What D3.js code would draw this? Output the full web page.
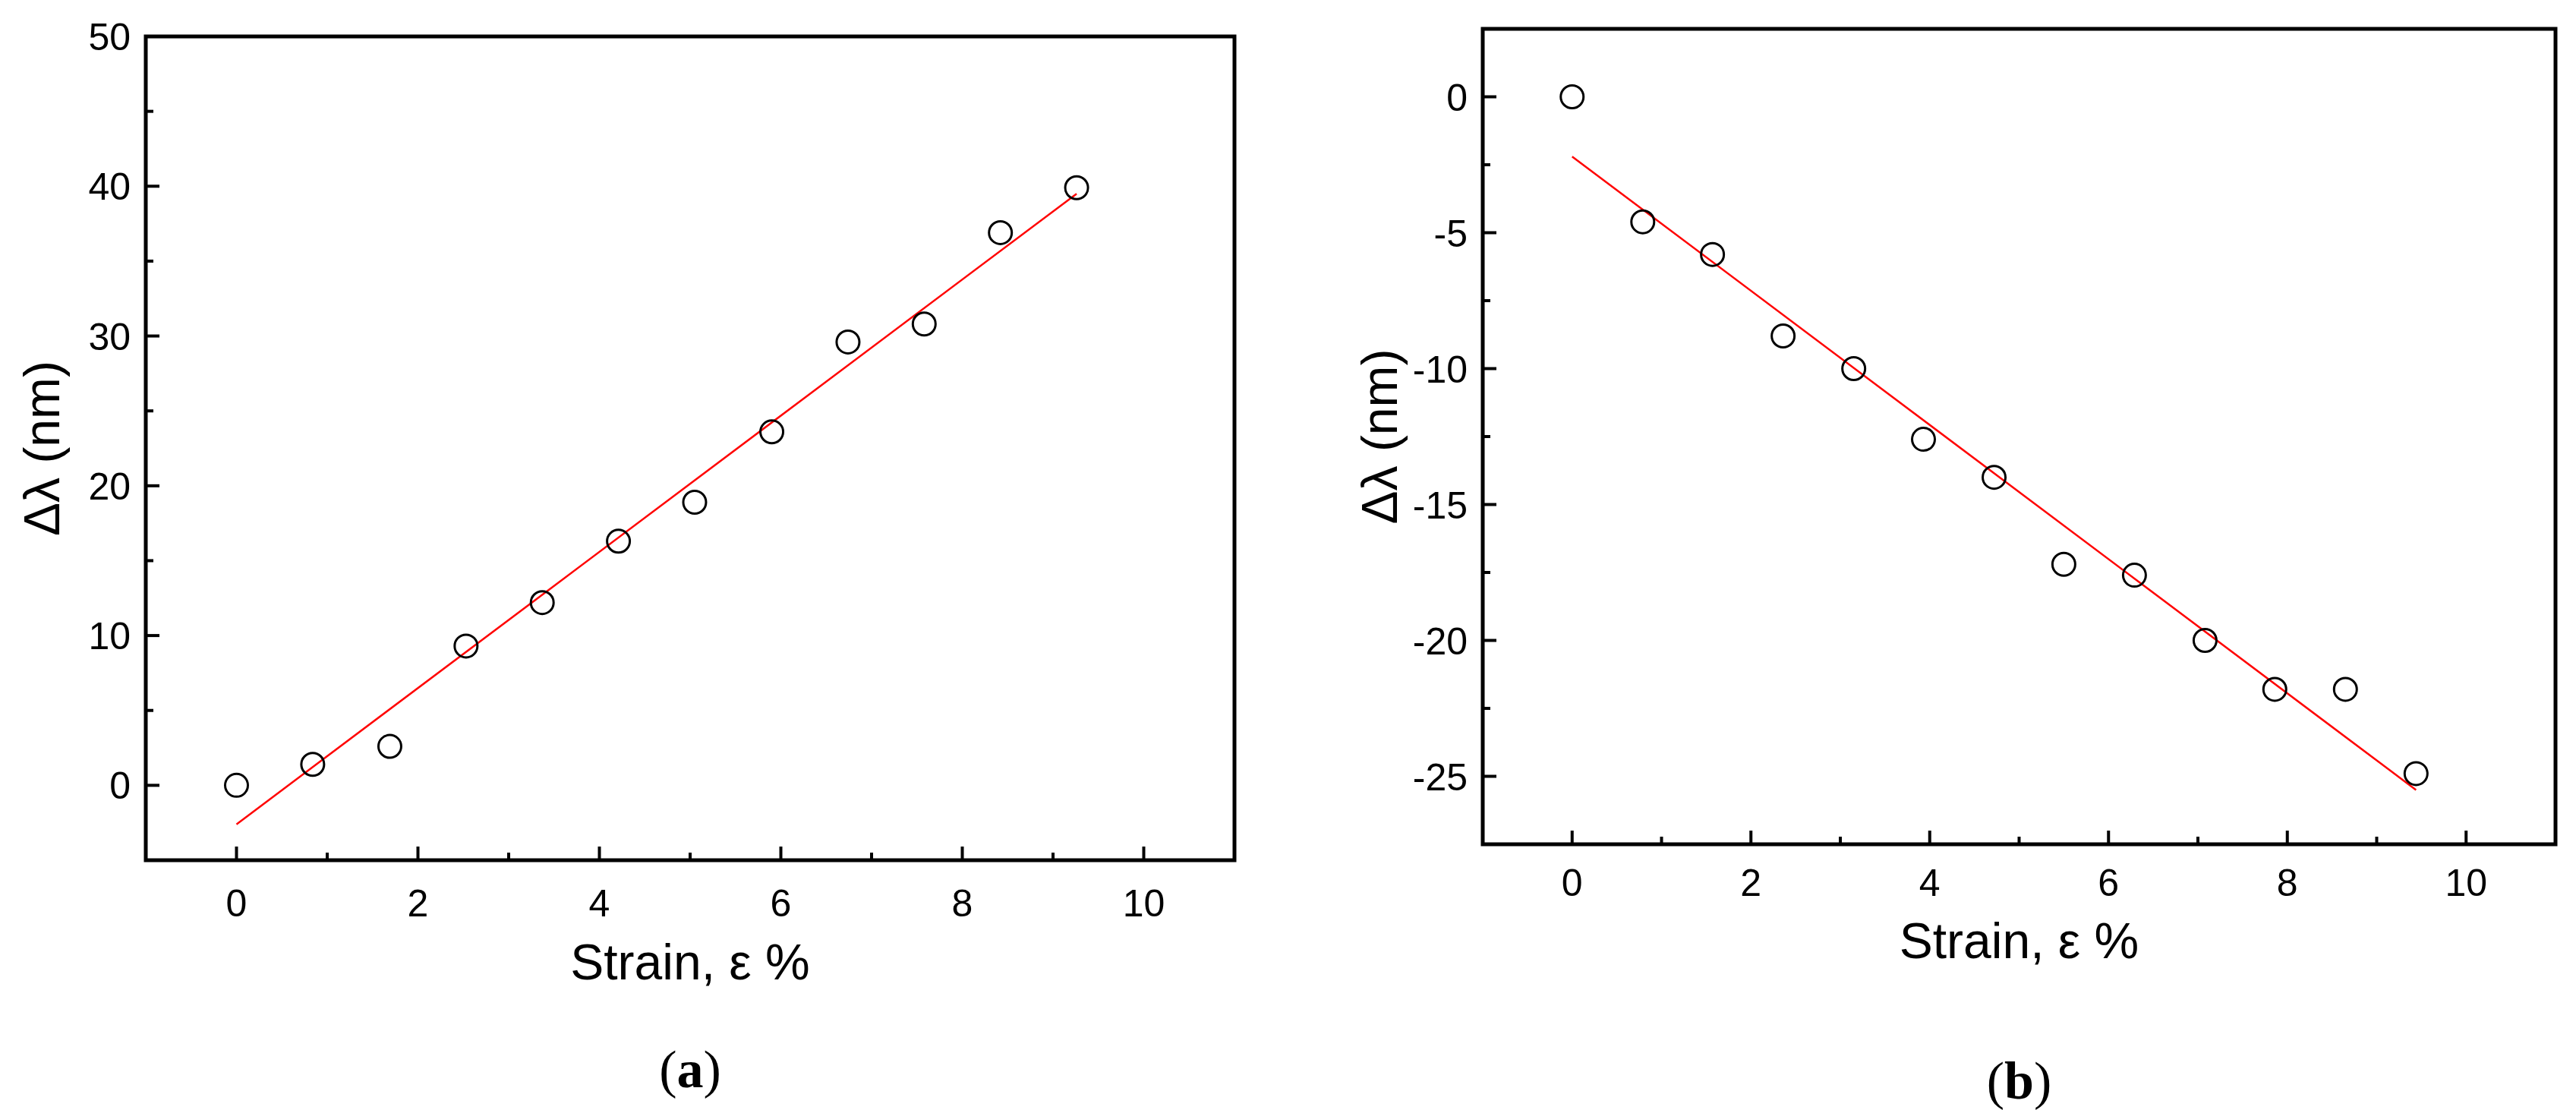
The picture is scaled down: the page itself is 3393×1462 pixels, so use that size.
<!DOCTYPE html><html><head><meta charset="utf-8"><script src="https://cdn.jsdelivr.net/npm/d3@7"></script>
<style>body{margin:0;background:#fff}</style></head><body><svg id="c" width="3393" height="1462"></svg>
<script>
const xA=[0,0.84,1.69,2.53,3.37,4.21,5.05,5.9,6.74,7.58,8.42,9.26];
const yA=[0,1.4,2.6,9.3,12.2,16.3,18.9,23.6,29.6,30.8,36.9,39.9];
const fitA=[[0,-2.6],[9.26,39.5]];
const xB=[0,0.79,1.57,2.36,3.15,3.93,4.72,5.5,6.29,7.08,7.86,8.65,9.44];
const yB=[0,-4.6,-5.8,-8.8,-10,-12.6,-14,-17.2,-17.6,-20,-21.8,-21.8,-24.9];
const fitB=[[0,-2.2],[9.44,-25.5]];
const xTicks=[0,2,4,6,8,10];
const yTicksA=[0,10,20,30,40,50];
const yTicksB=[0,-5,-10,-15,-20,-25];
const svg=d3.select("#c");
const F="Liberation Sans, Arial, sans-serif";
function panel(o){
  const x=d3.scaleLinear().domain([-1,11]).range([o.l,o.r]);
  const y=d3.scaleLinear().domain(o.yd).range([o.b,o.t]);
  const g=svg.append("g");
  // ticks
  const xm=d3.range(0,11,1), ym=d3.range(o.yd[0],o.yd[1]+0.001,o.ystep/2);
  xm.forEach(v=>{const L=(v%2===0)?18:10;g.append("line").attr("x1",x(v)).attr("x2",x(v)).attr("y1",o.b).attr("y2",o.b-L).attr("stroke","#000").attr("stroke-width",4);});
  ym.forEach(v=>{if(v<=o.yd[0]+0.01)return;const major=o.yt.some(t=>Math.abs(t-v)<1e-6);const L=major?18:10;g.append("line").attr("x1",o.l).attr("x2",o.l+L).attr("y1",y(v)).attr("y2",y(v)).attr("stroke","#000").attr("stroke-width",4);});
  g.append("rect").attr("x",o.l).attr("y",o.t).attr("width",o.r-o.l).attr("height",o.b-o.t).attr("fill","none").attr("stroke","#000").attr("stroke-width",5);
  xTicks.forEach(v=>g.append("text").attr("x",x(v)).attr("y",o.xly).attr("text-anchor","middle").attr("font-family",F).attr("font-size",50).text(v));
  o.yt.forEach(v=>g.append("text").attr("x",o.l-20).attr("y",y(v)+18).attr("text-anchor","end").attr("font-family",F).attr("font-size",50).text(v));
  g.append("text").attr("x",(o.l+o.r)/2).attr("y",o.xty).attr("text-anchor","middle").attr("font-family",F).attr("font-size",66).text("Strain, ε %");
  g.append("text").attr("transform",`translate(${o.ytx},${(o.t+o.b)/2}) rotate(-90)`).attr("text-anchor","middle").attr("font-family",F).attr("font-size",66).text("Δλ (nm)");
  g.append("text").attr("x",(o.l+o.r)/2).attr("y",o.py).attr("text-anchor","middle").attr("font-family","Liberation Serif, Times New Roman, serif").attr("font-size",70).html(`(<tspan font-weight="bold">${o.lab}</tspan>)`);
  g.append("path").attr("d",d3.line().x(d=>x(d[0])).y(d=>y(d[1]))(o.fit)).attr("stroke","#ff0000").attr("stroke-width",2.5).attr("fill","none");
  o.xs.forEach((v,i)=>g.append("circle").attr("cx",x(v)).attr("cy",y(o.ys[i])).attr("r",15).attr("fill","none").attr("stroke","#000").attr("stroke-width",3));
}
panel({l:192,r:1626,t:48,b:1133,yd:[-5,50],ystep:10,yt:yTicksA,xs:xA,ys:yA,fit:fitA,xly:1207,xty:1290,ytx:78,py:1432,lab:"a"});
panel({l:1953,r:3366,t:38,b:1112,yd:[-27.5,2.5],ystep:5,yt:yTicksB,xs:xB,ys:yB,fit:fitB,xly:1180,xty:1262,ytx:1840,py:1447,lab:"b"});
</script></body></html>
